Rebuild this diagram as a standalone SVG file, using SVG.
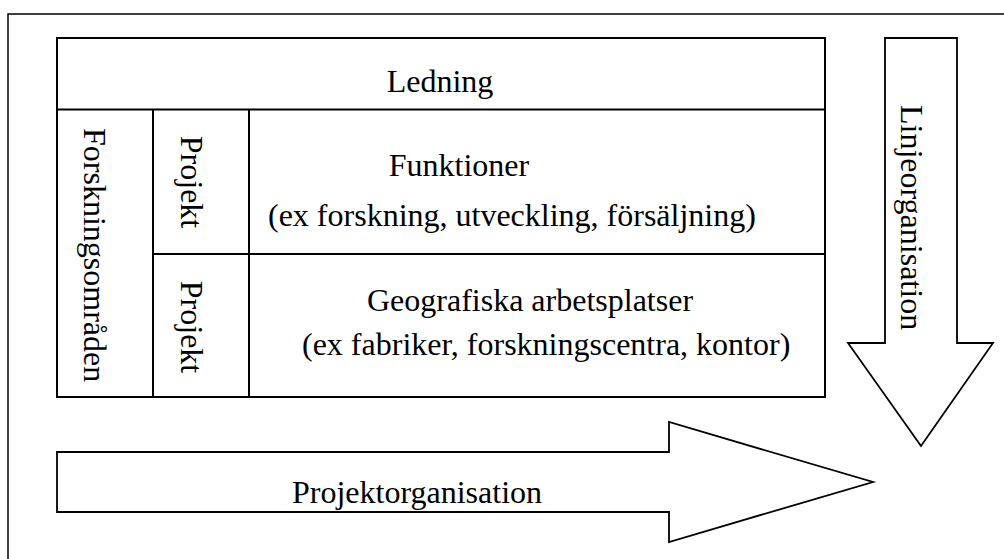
<svg xmlns="http://www.w3.org/2000/svg" width="1004" height="559" viewBox="0 0 1004 559">
<style>
.t{font-family:"Liberation Serif","Times New Roman",serif;font-size:32px;fill:#000}
.ln{fill:none;stroke:#000;stroke-width:2}
.ar{fill:#fff;stroke:#000;stroke-width:1.8;stroke-linejoin:miter}
</style>
<rect x="0" y="0" width="1004" height="559" fill="#fff"/>
<rect id="frame" x="8" y="14" width="1010" height="560" fill="none" stroke="#000" stroke-width="1.5"/>
<g id="connectors">
<polygon id="arrow-linje" class="ar" points="885,38 957,38 957,343 993,343 921,446 848,343 885,343"/>
<polygon id="arrow-projekt" class="ar" points="57,452 669,452 669,422 873,482 669,542 669,512 57,512"/>
</g>
<g id="table">
<rect class="ln" x="57" y="38" width="768" height="359"/>
<line class="ln" x1="57" y1="109.5" x2="825" y2="109.5"/>
<line class="ln" x1="153" y1="109.5" x2="153" y2="397"/>
<line class="ln" x1="249" y1="109.5" x2="249" y2="397"/>
<line class="ln" x1="153" y1="254" x2="825" y2="254"/>
</g>
<g id="ledning"><text class="t" x="440" y="92" text-anchor="middle">Ledning</text></g>
<g id="forskningsomraden"><text class="t" transform="translate(84,128) rotate(90)">Forskningsområden</text></g>
<g id="projekt1"><text class="t" transform="translate(181,182) rotate(90)" text-anchor="middle">Projekt</text></g>
<g id="projekt2"><text class="t" transform="translate(181,327) rotate(90)" text-anchor="middle">Projekt</text></g>
<g id="funktioner">
<text class="t" x="459" y="176" text-anchor="middle">Funktioner</text>
<text class="t" x="268" y="226">(ex forskning, utveckling, försäljning)</text>
</g>
<g id="geografiska">
<text class="t" x="530" y="311" text-anchor="middle">Geografiska arbetsplatser</text>
<text class="t" x="302" y="355">(ex fabriker, forskningscentra, kontor)</text>
</g>
<g id="linjeorganisation"><text class="t" transform="translate(901,105) rotate(90)">Linjeorganisation</text></g>
<g id="projektorganisation"><text class="t" x="292" y="503">Projektorganisation</text></g>
</svg>
